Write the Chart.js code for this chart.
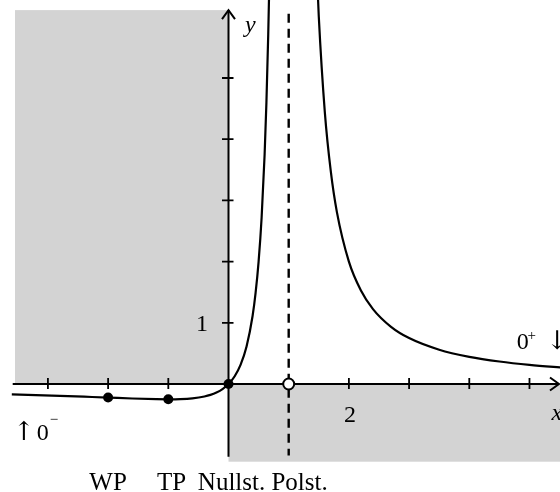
<!DOCTYPE html>
<html>
<head>
<meta charset="utf-8">
<script src="https://cdn.jsdelivr.net/npm/chart.js@4.4.1/dist/chart.umd.min.js"></script>
<style>
  html, body { margin: 0; padding: 0; background: #ffffff; }
  #wrap { width: 560px; height: 492px; }
</style>
</head>
<body>
<div id="wrap"><canvas id="c" width="560" height="492"></canvas></div>
<script>
// ---- data ----
// left branch of the curve (x < pole)
const leftX = [-3.6, -3.2, -2.8, -2.4, -2.0, -1.6, -1.2, -1.0, -0.8, -0.6, -0.4, -0.3, -0.2, -0.1, 0.0, 0.1, 0.2, 0.3, 0.4, 0.45, 0.5, 0.55, 0.6, 0.63, 0.66, 0.68, 0.7];
const leftY = [-0.170, -0.181, -0.194, -0.208, -0.222, -0.237, -0.248, -0.250, -0.247, -0.234, -0.204, -0.178, -0.139, -0.083, 0.0, 0.123, 0.313, 0.612, 1.111, 1.488, 2.0, 2.716, 3.75, 4.602, 5.709, 6.641, 7.778];
// right branch of the curve (x > pole)
const rightX = [1.36, 1.4, 1.45, 1.5, 1.6, 1.7, 1.8, 2.0, 2.2, 2.4, 2.7, 3.0, 3.5, 4.0, 4.5, 5.0, 5.6];
const rightY = [10.49, 8.75, 7.16, 6.0, 4.444, 3.469, 2.813, 2.0, 1.528, 1.224, 0.934, 0.75, 0.56, 0.444, 0.367, 0.3125, 0.265];
// marked points: WP, TP, Nullstelle
const markX = [-2, -1, 0];
const markY = [-0.222, -0.25, 0];
// pole (open circle on the x axis) and asymptote
const poleX = [1];
const poleY = [0];
// tick values
const xTicks = [-3, -2, -1, 1, 2, 3, 4, 5];
const yTicks = [1, 2, 3, 4, 5];
const xTickLabels = {2: '2'};
const yTickLabels = {1: '1'};
// bottom labels under the special points
const bottomLabels = ['WP', 'TP', 'Nullst.', 'Polst.'];
const bottomLabelX = [-2.0, -0.944, 0.05, 1.18];

// ---- layout (data units) ----
const X_MIN = -3.796, X_MAX = 5.507, Y_MIN = -1.765, Y_MAX = 6.275;
const FONT = "'Liberation Serif', 'Times New Roman', serif";
const ARROW_FONT = "'DejaVu Serif', 'Liberation Serif', serif";

const decor = {
  id: 'decor',
  beforeDatasetsDraw(chart) {
    const ctx = chart.ctx;
    const xs = chart.scales.x, ys = chart.scales.y;
    const px = v => xs.getPixelForValue(v);
    const py = v => ys.getPixelForValue(v);
    ctx.save();
    // shaded regions
    ctx.fillStyle = '#d3d3d3';
    ctx.fillRect(px(-3.547), py(6.11), px(0) - px(-3.547), py(0) - py(6.11));
    ctx.fillRect(px(0), py(0), px(5.7) - px(0), py(-1.27) - py(0));

    // asymptote
    ctx.strokeStyle = '#000';
    ctx.lineWidth = 2.4;
    ctx.setLineDash([9, 6]);
    ctx.beginPath();
    ctx.moveTo(px(poleX[0]), py(6.05));
    ctx.lineTo(px(poleX[0]), py(-1.17));
    ctx.stroke();
    ctx.setLineDash([]);

    // axes
    ctx.lineWidth = 2;
    const x0 = px(0), y0 = py(0);
    const xEnd = px(5.49), yEnd = py(6.11);
    ctx.beginPath();
    ctx.moveTo(px(-3.585), y0);
    ctx.lineTo(xEnd, y0);
    ctx.moveTo(x0, py(-1.19));
    ctx.lineTo(x0, yEnd);
    ctx.stroke();
    // arrow heads
    ctx.beginPath();
    ctx.moveTo(xEnd - 9, y0 - 6.5);
    ctx.lineTo(xEnd, y0);
    ctx.lineTo(xEnd - 9, y0 + 6.5);
    ctx.moveTo(x0 - 6.5, yEnd + 9);
    ctx.lineTo(x0, yEnd);
    ctx.lineTo(x0 + 6.5, yEnd + 9);
    ctx.stroke();
    // ticks
    ctx.lineWidth = 1.8;
    ctx.beginPath();
    xTicks.forEach(v => { const p = px(v); ctx.moveTo(p, y0 - 6); ctx.lineTo(p, y0 + 5); });
    yTicks.forEach(v => { const p = py(v); ctx.moveTo(x0 - 6.5, p); ctx.lineTo(x0 + 5, p); });
    ctx.stroke();

    // tick labels
    ctx.fillStyle = '#000';
    ctx.font = '24px ' + FONT;
    ctx.textBaseline = 'alphabetic';
    ctx.textAlign = 'center';
    Object.keys(xTickLabels).forEach(k => ctx.fillText(xTickLabels[k], px(+k) + 1, py(-0.621)));
    ctx.textAlign = 'right';
    Object.keys(yTickLabels).forEach(k => ctx.fillText(yTickLabels[k], px(-0.34), py(+k - 0.14)));

    // axis names
    ctx.font = 'italic 24px ' + FONT;
    ctx.textAlign = 'left';
    ctx.fillText('y', px(0.274), py(5.752));
    ctx.fillText('x', px(5.365), py(-0.588));

    // limit annotations
    ctx.font = '24px ' + FONT;
    ctx.fillText('0', px(4.787), py(0.572));
    ctx.fillText('0', px(-3.186), py(-0.915));
    ctx.font = '15px ' + FONT;
    ctx.fillText('+', px(4.967), py(0.727));
    ctx.fillText('\u2212', px(-2.97), py(-0.66));
    ctx.font = '26px ' + ARROW_FONT;
    ctx.fillText('\u2193', px(5.28), py(0.572));
    ctx.fillText('\u2191', px(-3.58), py(-0.915));

    // bottom labels
    ctx.font = '25px ' + FONT;
    ctx.textAlign = 'center';
    bottomLabels.forEach((t, i) => ctx.fillText(t, px(bottomLabelX[i]), py(-1.732)));
    ctx.restore();
  }
};

const toPts = (xa, ya) => xa.map((x, i) => ({x: x, y: ya[i]}));

new Chart(document.getElementById('c'), {
  type: 'scatter',
  data: {
    datasets: [
      { data: toPts(leftX, leftY), showLine: true, borderColor: '#000', borderWidth: 2.2,
        pointRadius: 0, cubicInterpolationMode: 'monotone', fill: false },
      { data: toPts(rightX, rightY), showLine: true, borderColor: '#000', borderWidth: 2.2,
        pointRadius: 0, cubicInterpolationMode: 'monotone', fill: false },
      { data: toPts(markX, markY), showLine: false, pointRadius: 5, pointBackgroundColor: '#000',
        pointBorderColor: '#000', pointBorderWidth: 0 },
      { data: toPts(poleX, poleY), showLine: false, pointRadius: 5.5, pointBackgroundColor: '#fff',
        pointBorderColor: '#000', pointBorderWidth: 2 }
    ]
  },
  options: {
    responsive: false,
    animation: false,
    layout: { padding: 0, autoPadding: false },
    plugins: { legend: { display: false }, tooltip: { enabled: false } },
    events: [],
    scales: {
      x: { type: 'linear', min: X_MIN, max: X_MAX, display: false },
      y: { type: 'linear', min: Y_MIN, max: Y_MAX, display: false }
    }
  },
  plugins: [decor]
});
</script>
</body>
</html>
